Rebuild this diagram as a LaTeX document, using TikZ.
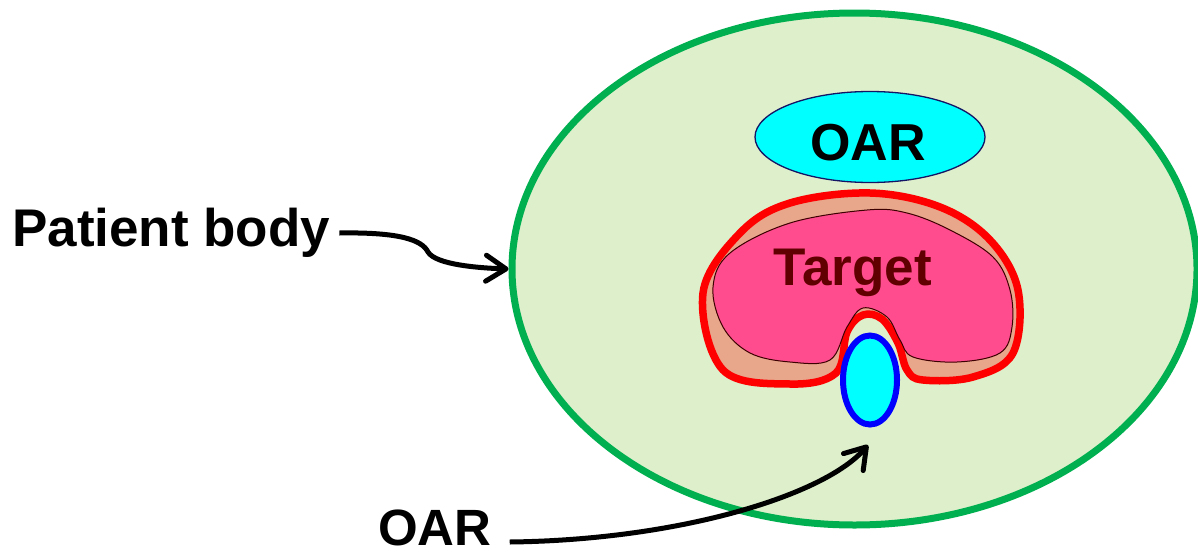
\documentclass[tikz,border=0pt]{standalone}
\usepackage{fontspec}
\setmainfont{Liberation Sans}
\usetikzlibrary{shapes.geometric,arrows.meta}

\definecolor{bodygreen}{RGB}{0,176,80}
\definecolor{bodyfill}{RGB}{221,239,203}
\definecolor{oarcyan}{RGB}{0,255,255}
\definecolor{oarline}{RGB}{20,20,100}
\definecolor{ptvred}{RGB}{255,0,0}
\definecolor{ptvfill}{RGB}{232,166,138}
\definecolor{ctvpink}{RGB}{255,76,142}
\definecolor{ctvline}{RGB}{60,0,0}
\definecolor{targettext}{RGB}{96,0,0}
\definecolor{oarblue}{RGB}{0,0,255}

\tikzset{
  label text/.style={font=\fontsize{53}{60}\selectfont\bfseries, inner sep=0pt},
  pointer/.style={line width=5pt, -{Straight Barb[length=20pt,width=26pt,round]}},
  organ/.style={ellipse, fill=oarcyan, inner sep=0pt},
}

\begin{document}
\begin{tikzpicture}[x=1pt,y=-1pt]
  \useasboundingbox (0,0) rectangle (1198,554);

  % patient outline
  \node[ellipse, draw=bodygreen, fill=bodyfill, line width=7pt,
        minimum width=685pt, minimum height=512pt, inner sep=0pt] (body) at (854.5,269) {};

  % organ at risk above the target
  \node[organ, draw=oarline, line width=1.3pt,
        minimum width=230pt, minimum height=91pt] (oartop) at (870,137) {};
  \node[label text, font=\fontsize{52}{60}\selectfont\bfseries] (oartoplabel) at (868,143) {OAR};

  % planning target volume (margin)
  \filldraw[fill=ptvfill, draw=ptvred, line width=7.5pt, line join=round]
    plot[smooth cycle, tension=0.6] coordinates {
      (870,193) (940,207) (990,240) (1018,290) (1013,353) (973,377)
      (923,380) (907,370) (898,343) (882,319) (863,315) (847,332)
      (836,373) (790,384) (723,370) (703,293) (740,233) (790,203)};

  % clinical target volume
  \filldraw[fill=ctvpink, draw=ctvline, line width=1pt]
    plot[smooth cycle, tension=0.6] coordinates {
      (867,210) (907,213) (950,230) (993,257) (1010,290) (1012,327)
      (1000,353) (957,362) (913,357) (900,340) (887,317) (863,308)
      (847,327) (830,360) (790,362) (750,353) (723,327) (713,287)
      (730,253) (790,223)};
  \node[label text, text=targettext, anchor=base] (targetlabel) at (853,285) {Target};

  % organ at risk inside the notch
  \node[organ, draw=oarblue, line width=6pt,
        minimum width=54pt, minimum height=89pt] (oarsmall) at (870,380) {};

  % labels and pointers
  \node[label text, anchor=base west] (pb) at (12,246) {Patient body};
  \node[label text, font=\fontsize{51}{60}\selectfont\bfseries, anchor=base west] (oarbottom) at (378,545) {OAR};
  \coordinate (oartip) at (868,445);

  \draw[pointer] ([xshift=9pt,yshift=13pt]pb.base east)
    .. controls (400,232) and (422,240) .. (428,252)
    .. controls (436,265) and (480,268) .. (body.west);
  \draw[pointer] ([xshift=18pt,yshift=3pt]oarbottom.base east)
    .. controls (680,540) and (825,495) .. (oartip);
\end{tikzpicture}
\end{document}
